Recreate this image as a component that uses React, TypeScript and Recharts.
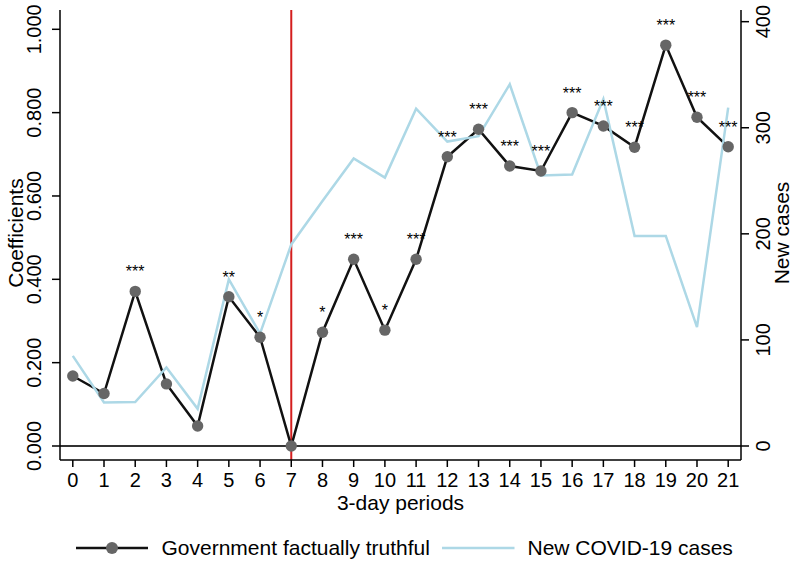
import React from "react";
import {
  ComposedChart,
  Line,
  XAxis,
  YAxis,
  ReferenceLine,
  LabelList,
  Legend,
} from "recharts";

const periods = [0, 1, 2, 3, 4, 5, 6, 7, 8, 9, 10, 11, 12, 13, 14, 15, 16, 17, 18, 19, 20, 21];
const coefficients = [
  0.168, 0.126, 0.371, 0.149, 0.048, 0.358, 0.261, 0.0, 0.273, 0.448, 0.278,
  0.448, 0.694, 0.76, 0.672, 0.66, 0.8, 0.768, 0.717, 0.962, 0.789, 0.718,
];
const significance = [
  "", "", "***", "", "", "**", "*", "", "*", "***", "*",
  "***", "***", "***", "***", "***", "***", "***", "***", "***", "***", "***",
];
const newCases = [
  85, 41, 41.5, 74, 35, 157, 106, 190, 231, 271, 253,
  318, 287, 292, 341, 255, 256, 327, 198, 198, 112, 319,
];
const leftTicks = [0, 0.2, 0.4, 0.6, 0.8, 1];
const rightTicks = [0, 100, 200, 300, 400];
const treatmentPeriod = 7;

const FONT = "Liberation Sans, Arial, Helvetica, sans-serif";

const data = periods.map((p, i) => ({
  period: p,
  coef: coefficients[i],
  stars: significance[i],
  cases: newCases[i],
}));

const LeftTick = (props: any) => {
  const { y, payload } = props;
  const x = 41.5;
  return (
    <text
      x={x}
      y={y}
      transform={`rotate(-90, ${x}, ${y})`}
      textAnchor="middle"
      fontSize={20}
      fontFamily={FONT}
      fill="#000"
    >
      {Number(payload.value).toFixed(3)}
    </text>
  );
};

const RightTick = (props: any) => {
  const { y, payload } = props;
  const x = 770;
  return (
    <text
      x={x}
      y={y}
      transform={`rotate(-90, ${x}, ${y})`}
      textAnchor="middle"
      fontSize={20}
      fontFamily={FONT}
      fill="#000"
    >
      {payload.value}
    </text>
  );
};

const BottomTick = (props: any) => {
  const { x, payload } = props;
  return (
    <text x={x} y={487} textAnchor="middle" fontSize={20} fontFamily={FONT} fill="#000">
      {payload.value}
    </text>
  );
};

// axis titles, placed by hand (recharts overrides x/y on label elements)
const VerticalTitle = ({ tx, ty, text }: { tx: number; ty: number; text: string }) => (
  <text
    x={tx}
    y={ty}
    transform={`rotate(-90, ${tx}, ${ty})`}
    textAnchor="middle"
    fontSize={21}
    fontFamily={FONT}
    fill="#000"
  >
    {text}
  </text>
);

const XTitle = () => (
  <text x={400.5} y={510} textAnchor="middle" fontSize={21} fontFamily={FONT} fill="#000">
    3-day periods
  </text>
);

const StarLabel = (props: any) => {
  const { x, y, value } = props;
  if (!value) return null;
  return (
    <text x={x} y={y - 14} textAnchor="middle" fontSize={16} fontFamily={FONT} fill="#000">
      {value}
    </text>
  );
};

const LegendContent = () => (
  <div
    style={{
      display: "flex",
      alignItems: "center",
      height: 50,
      paddingLeft: 76,
      fontFamily: FONT,
      fontSize: 21,
      color: "#000",
      whiteSpace: "nowrap",
    }}
  >
    <svg width={72} height={14}>
      <line x1={0} y1={7} x2={72} y2={7} stroke="#111" strokeWidth={2.5} />
      <circle cx={36} cy={7} r={6} fill="#666" />
    </svg>
    <span style={{ marginLeft: 13.5 }}>Government factually truthful</span>
    <svg width={72.5} height={14} style={{ marginLeft: 12.5 }}>
      <line x1={0} y1={7} x2={72.5} y2={7} stroke="#add8e6" strokeWidth={2.5} />
    </svg>
    <span style={{ marginLeft: 12.5 }}>New COVID-19 cases</span>
  </div>
);

export default function App() {
  return (
    <div style={{ position: "absolute", left: 0, top: 0, background: "#fff" }}>
      <ComposedChart
        width={794}
        height={584}
        data={data}
        margin={{ top: 10, right: 0, bottom: 11, left: 0 }}
      >
        <XAxis
          dataKey="period"
          type="number"
          domain={[-0.41, 21.41]}
          ticks={periods}
          interval={0}
          allowDataOverflow
          height={63}
          stroke="#000"
          strokeWidth={1.5}
          tickSize={7}
          tick={<BottomTick />}
          label={<XTitle />}
        />
        <YAxis
          yAxisId="left"
          type="number"
          domain={[-0.0336, 1.0463]}
          ticks={leftTicks}
          allowDataOverflow
          width={60}
          stroke="#000"
          strokeWidth={1.5}
          tickSize={8}
          tick={<LeftTick />}
          label={<VerticalTitle tx={23} ty={233} text="Coefficients" />}
        />
        <YAxis
          yAxisId="right"
          orientation="right"
          type="number"
          domain={[-13.2, 411]}
          ticks={rightTicks}
          allowDataOverflow
          width={53}
          stroke="#000"
          strokeWidth={1.5}
          tickSize={8}
          tick={<RightTick />}
          label={<VerticalTitle tx={789} ty={233} text="New cases" />}
        />
        <ReferenceLine yAxisId="left" y={0} stroke="#333" strokeWidth={2} />
        <ReferenceLine yAxisId="left" x={treatmentPeriod} stroke="#d41e1e" strokeWidth={2} />
        <Line
          yAxisId="left"
          dataKey="coef"
          type="linear"
          stroke="#111"
          strokeWidth={2.5}
          dot={{ r: 5.7, fill: "#666", stroke: "none" }}
          activeDot={false}
          isAnimationActive={false}
        >
          <LabelList dataKey="stars" content={<StarLabel />} />
        </Line>
        <Line
          yAxisId="right"
          dataKey="cases"
          type="linear"
          stroke="#add8e6"
          strokeWidth={2.5}
          dot={false}
          activeDot={false}
          isAnimationActive={false}
        />
        <Legend
          verticalAlign="bottom"
          height={50}
          wrapperStyle={{ left: 0, width: 794, height: 50 }}
          content={<LegendContent />}
        />
      </ComposedChart>
    </div>
  );
}
